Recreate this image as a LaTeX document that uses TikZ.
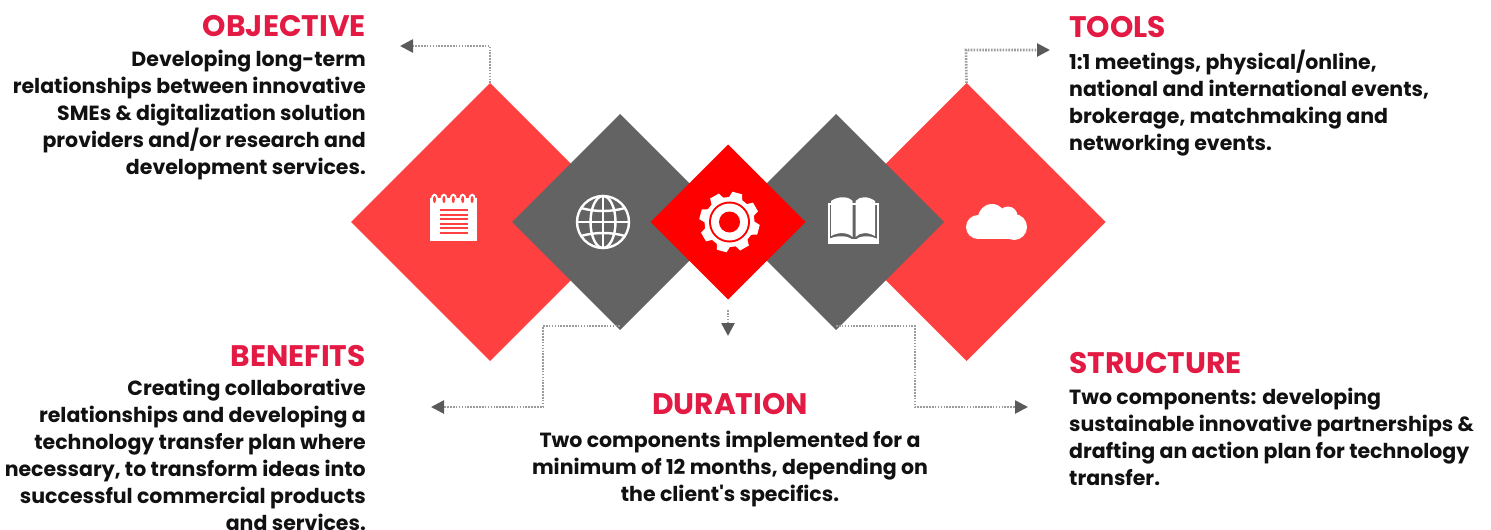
\documentclass[tikz,border=0pt]{standalone}
\usepackage{fontspec}
\newfontfamily\popfont{Poppins}
\usetikzlibrary{shapes.geometric,arrows.meta}
\definecolor{bigred}{HTML}{FF4040}
\definecolor{corered}{HTML}{FE0000}
\definecolor{darkgr}{HTML}{636363}
\definecolor{arrgr}{HTML}{5A5A5A}
\definecolor{linegr}{HTML}{9C9C9C}
\definecolor{titlered}{HTML}{E31B44}
\definecolor{bodyk}{HTML}{111111}
\tikzset{
 dia/.style={diamond,aspect=1,inner sep=0pt,outer sep=0pt,draw=none},
 conn/.style={draw=linegr,line width=2.6pt,dash pattern=on 1.6pt off 1.3pt,-{Triangle[length=13pt,width=13pt,color=arrgr,fill=arrgr]}},
 ttl/.style={inner sep=0pt,font=\popfont\fontsize{29.7}{32}\selectfont\bfseries,text=titlered},
 body/.style={inner sep=0pt,font=\popfont\fontsize{20.5}{27}\selectfont\bfseries,text=bodyk},
}
\begin{document}
\begin{tikzpicture}[x=1pt,y=-1pt]
\useasboundingbox (0,0) rectangle (1491,530);
% diamonds
\node[dia,fill=bigred,minimum size=278pt] (dA) at (490,222) {};
\node[dia,fill=bigred,minimum size=278pt] (dE) at (966.5,222) {};
\node[dia,fill=darkgr,minimum size=216pt] (dB) at (620,222) {};
\node[dia,fill=darkgr,minimum size=216pt] (dD) at (836,222) {};
\node[dia,fill=corered,minimum size=155pt] (dC) at (728,222) {};
% notepad icon
\fill[white] (430,198) rectangle (477,241);
\foreach \k in {0,1,2,3,4}{
  \fill[white] (434.5+9.4*\k,199) ellipse (3.6 and 5.4);
  \fill[bigred] (434.5+9.4*\k,199.5) ellipse (1.5 and 3.6);
}
\foreach \yy in {209,213.6,218.2,222.8,227.4,232}{\fill[bigred] (439.5,\yy) rectangle (467.5,\yy+2);}
% globe icon
\begin{scope}[white,line width=2.4pt]
\draw (603,222) circle (26);
\draw (603,222) ellipse (12.5 and 26);
\draw (603,196) -- (603,248);
\draw (577,222) -- (629,222);
\draw (581,208) .. controls (595,212) and (611,212) .. (625,208);
\draw (581,236) .. controls (595,232) and (611,232) .. (625,236);
\end{scope}
% gear icon
\foreach \a in {0,45,...,315}{
  \fill[white,rotate around={\a-15:(729.5,222)}] (724.5,192) -- (734.5,192) -- (737.5,202) -- (721.5,202) -- cycle;
}
\fill[white] (729.5,222) circle (25);
\fill[corered] (729.5,222) circle (20.5);
\fill[white] (729.5,222) circle (18.5);
\fill[corered] (729.5,222) circle (10.5);
% book icon
\fill[white] (828,203) rectangle (878.5,244);
\fill[darkgr] (830,205) rectangle (876.5,239);
\fill[white] (831,201) .. controls (838,196) and (848,196) .. (852.5,201) -- (852.5,237) .. controls (848,232) and (838,232) .. (831,236) -- cycle;
\fill[white] (875,201) .. controls (868,196) and (860,196) .. (855.5,201) -- (855.5,237) .. controls (860,232) and (868,232) .. (875,236) -- cycle;
\fill[white] (830,238.5) .. controls (838,235) and (848,235.5) .. (853,240) -- (855,240) .. controls (860,235.5) and (868,235) .. (876.5,238.5) -- (876.5,241) -- (830,241) -- cycle;
% cloud icon
\begin{scope}[white]
\fill (978,227) circle (12);
\fill (1014,227) circle (13);
\fill (992,218) circle (14);
\fill (1008,216) circle (9.5);
\fill (978,222) rectangle (1014,239);
\end{scope}
% connector bends and free ends
\coordinate (aB) at (490,46); \coordinate (aE) at (400,46);
\coordinate (eB) at (966,50); \coordinate (eE) at (1050,50);
\coordinate (bS) at (620,326); \coordinate (bB) at (543,326); \coordinate (bC) at (543,407); \coordinate (bE) at (431,407);
\coordinate (dS) at (836,326); \coordinate (dB2) at (915,326); \coordinate (dC2) at (915,407); \coordinate (dE2) at (1028,407);
\coordinate (cS) at (728,310); \coordinate (cE) at (728,336);
\draw[conn] (dA.north) -- (aB) -- (aE);
\draw[conn] (dE.north) -- (eB) -- (eE);
\draw[conn] (bS) -- (bB) -- (bC) -- (bE);
\draw[conn] (dS) -- (dB2) -- (dC2) -- (dE2);
\draw[conn] (cS) -- (cE);
% texts
\node[ttl,anchor=base east] (t1) at (366,36) {OBJECTIVE};
\node[body,anchor=north east,align=right] (b1) at (366,50) {Developing long-term\\relationships between innovative\\SMEs \& digitalization solution\\providers and/or research and\\development services.};
\node[ttl,anchor=base west] (t2) at (1069,37) {TOOLS};
\node[body,anchor=north west,align=left] (b2) at (1069,50) {1:1 meetings, physical/online,\\national and international events,\\brokerage, matchmaking and\\networking events.};
\node[ttl,anchor=base east] (t3) at (366,366) {BENEFITS};
\node[body,anchor=north east,align=right] (b3) at (366,379) {Creating collaborative\\relationships and developing a\\technology transfer plan where\\necessary, to transform ideas into\\successful commercial products\\and services.};
\node[ttl,anchor=base] (t4) at (730,414) {DURATION};
\node[body,anchor=north,align=center] (b4) at (730,431) {Two components implemented for a\\minimum of 12 months, depending on\\the client's specifics.};
\node[ttl,anchor=base west] (t5) at (1069,373) {STRUCTURE};
\node[body,anchor=north west,align=left] (b5) at (1069,388) {Two components: developing\\sustainable innovative partnerships \&\\drafting an action plan for technology\\transfer.};
\end{tikzpicture}
\end{document}
